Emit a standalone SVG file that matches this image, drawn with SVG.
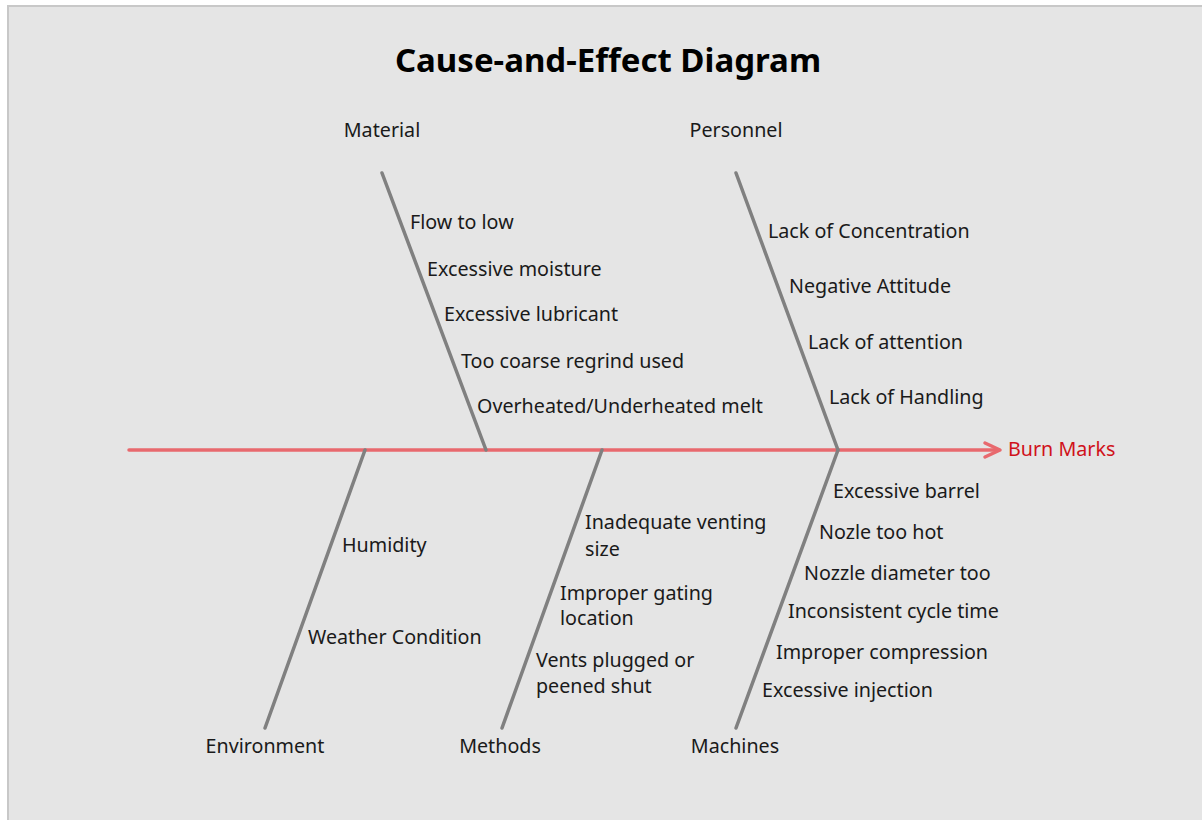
<svg xmlns="http://www.w3.org/2000/svg" width="1202" height="820" viewBox="0 0 1202 820">
<style>
text{font-family:"Noto Sans","Open Sans","Liberation Sans",sans-serif;font-size:19.7px;fill:#1a1a1a}
.c{text-anchor:middle}
.t{font-size:33px;font-weight:bold;fill:#000}
.r{fill:#d0121b}
.bone{stroke:#808080;stroke-width:3.5;fill:none;stroke-linecap:round}
.spine{stroke:#e8696e;stroke-width:3.5;fill:none;stroke-linecap:round}
</style>
<rect x="0" y="0" width="1202" height="820" fill="#ffffff"/>
<rect x="8" y="6" width="1200" height="820" fill="#e5e5e5" stroke="#c8c8c8" stroke-width="2"/>
<text id="title" class="t c" x="608" y="72">Cause-and-Effect Diagram</text>
<g id="connectors">
<line class="spine" x1="129" y1="450" x2="999" y2="450"/>
<polyline class="spine" points="985,443 1000,450 985,457" stroke-linejoin="round"/>
<line class="bone" x1="382" y1="173" x2="486" y2="450"/>
<line class="bone" x1="736" y1="173" x2="838" y2="450"/>
<line class="bone" x1="365" y1="450" x2="265" y2="728"/>
<line class="bone" x1="602" y1="450" x2="502" y2="728"/>
<line class="bone" x1="838" y1="450" x2="736" y2="728"/>
</g>
<g id="effect"><text class="r" x="1008" y="456">Burn Marks</text></g>
<g id="material">
<text class="c" x="382" y="137">Material</text>
<text x="410" y="229">Flow to low</text>
<text x="427" y="276">Excessive moisture</text>
<text x="444" y="321">Excessive lubricant</text>
<text x="461" y="368">Too coarse regrind used</text>
<text x="477" y="413">Overheated/Underheated melt</text>
</g>
<g id="personnel">
<text class="c" x="736" y="137">Personnel</text>
<text x="768" y="238">Lack of Concentration</text>
<text x="789" y="293">Negative Attitude</text>
<text x="808" y="349">Lack of attention</text>
<text x="829" y="404">Lack of Handling</text>
</g>
<g id="environment">
<text class="c" x="265" y="753">Environment</text>
<text x="342" y="552">Humidity</text>
<text x="308" y="644">Weather Condition</text>
</g>
<g id="methods">
<text class="c" x="500" y="753">Methods</text>
<text x="585" y="529">Inadequate venting</text>
<text x="585" y="556">size</text>
<text x="560" y="600">Improper gating</text>
<text x="560" y="625">location</text>
<text x="536" y="667">Vents plugged or</text>
<text x="536" y="693">peened shut</text>
</g>
<g id="machines">
<text class="c" x="735" y="753">Machines</text>
<text x="833" y="498">Excessive barrel</text>
<text x="819" y="539">Nozle too hot</text>
<text x="804" y="580">Nozzle diameter too</text>
<text x="788" y="618">Inconsistent cycle time</text>
<text x="776" y="659">Improper compression</text>
<text x="762" y="697">Excessive injection</text>
</g>
</svg>
